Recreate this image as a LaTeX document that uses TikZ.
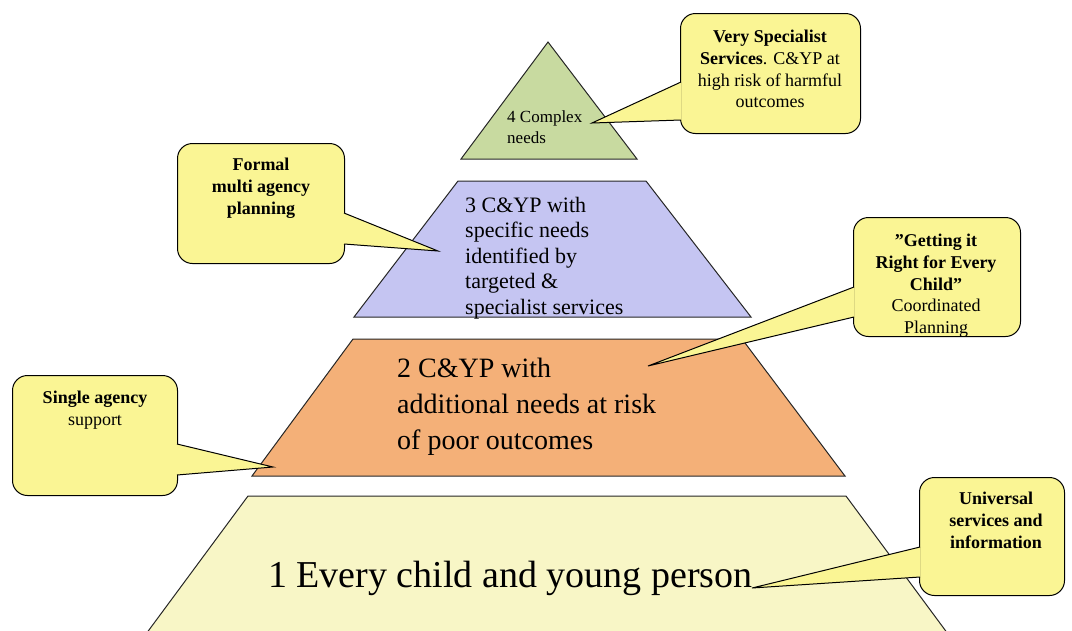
\documentclass[tikz,border=0pt]{standalone}
\usepackage{fontspec}
\setmainfont{Liberation Serif}

\definecolor{balao}{RGB}{250,245,148}
\definecolor{nivelum}{RGB}{248,246,198}
\definecolor{niveldois}{RGB}{244,176,120}
\definecolor{niveltres}{RGB}{197,197,242}
\definecolor{nivelquatro}{RGB}{200,218,160}

\tikzset{
    nivel/.style={draw=black!85, line width=1pt},
    caixa/.style={draw, fill=balao, rounded corners=15pt, line width=1pt, inner sep=0pt},
    ponta/.style={draw, fill=balao, line width=1pt},
    txtbalao/.style={inner sep=0pt, align=center, font=\fontsize{18}{21.7}\selectfont}
}

\begin{document}
\begin{tikzpicture}[x=1pt, y=-1pt]
        \useasboundingbox (0,0) rectangle (1072,630);
        \clip (0,0) rectangle (1072,630);

        %Niveis
        \filldraw[nivel, fill=nivelquatro] (548,42) -- (637,159) -- (461,159) -- cycle;
        \filldraw[nivel, fill=niveltres] (458,181) -- (646,181) -- (751,317) -- (354,317) -- cycle;
        \filldraw[nivel, fill=niveldois] (353,339) -- (742,339) -- (845,476) -- (252,476) -- cycle;
        \filldraw[nivel, fill=nivelum] (248,496) -- (846,496) -- (948,634) -- (146,634) -- cycle;

        %Textos dos niveis
        \node[anchor=north west, inner sep=0pt, align=left, font=\fontsize{17}{21.5}\selectfont] (n4) at (507,110) {4 Complex\\needs};
        \node[anchor=north west, inner sep=0pt, align=left, font=\fontsize{22}{25.5}\selectfont] (n3) at (465,197) {3 C\&YP with\\specific needs\\identified by\\targeted \&\\specialist services};
        \node[anchor=north west, inner sep=0pt, align=left, font=\fontsize{28}{36}\selectfont] (n2) at (397,358) {2 C\&YP with\\additional needs at risk\\of poor outcomes};
        \node[anchor=base west, inner sep=0pt, font=\fontsize{38}{40}\selectfont] (n1) at (268,587) {1 Every child and young person};

        %Pontas
        \coordinate (p4) at (592,123);
        \coordinate (p3) at (438,251);
        \coordinate (p2a) at (648,366);
        \coordinate (p2b) at (273,467);
        \coordinate (p1) at (752,588);

        %Baloes
        \node[caixa, anchor=north west, minimum width=180pt, minimum height=120pt] (vss) at (680,13) {};
        \filldraw[ponta] ([xshift=1pt, yshift=-69pt]vss.north west) -- (p4) -- ([xshift=1pt, yshift=-107pt]vss.north west);
        \node[txtbalao, anchor=north] (vsstxt) at (770,30) {\textbf{Very Specialist}\\\textbf{Services}. C\&YP at\\high risk of harmful\\outcomes};

        \node[caixa, anchor=north east, minimum width=167pt, minimum height=120pt] (fmap) at (345,143) {};
        \filldraw[ponta] ([xshift=-1pt, yshift=-70pt]fmap.north east) -- (p3) -- ([xshift=-1pt, yshift=-101pt]fmap.north east);
        \node[txtbalao, anchor=north] (fmaptxt) at (261,158) {\textbf{Formal}\\\textbf{multi agency}\\\textbf{planning}};

        \node[caixa, anchor=north west, minimum width=167pt, minimum height=119pt] (girfec) at (853,217) {};
        \filldraw[ponta] ([xshift=1pt, yshift=-70pt]girfec.north west) -- (p2a) -- ([xshift=1pt, yshift=-100pt]girfec.north west);
        \node[txtbalao, anchor=north] (girfectxt) at (936,234) {\textbf{"Getting it}\\\textbf{Right for Every}\\\textbf{Child”}\\Coordinated\\Planning};

        \node[caixa, anchor=north east, minimum width=165pt, minimum height=120pt] (sas) at (178,375) {};
        \filldraw[ponta] ([xshift=-1pt, yshift=-69pt]sas.north east) -- (p2b) -- ([xshift=-1pt, yshift=-100pt]sas.north east);
        \node[txtbalao, anchor=north] (sastxt) at (95,391) {\textbf{Single agency}\\support};

        \node[caixa, anchor=north west, minimum width=145pt, minimum height=118pt] (usi) at (919,477) {};
        \filldraw[ponta] ([xshift=1pt, yshift=-70pt]usi.north west) -- (p1) -- ([xshift=1pt, yshift=-100pt]usi.north west);
        \node[txtbalao, anchor=north] (usitxt) at (996,492) {\textbf{Universal}\\\textbf{services and}\\\textbf{information}};

    \end{tikzpicture}
\end{document}
